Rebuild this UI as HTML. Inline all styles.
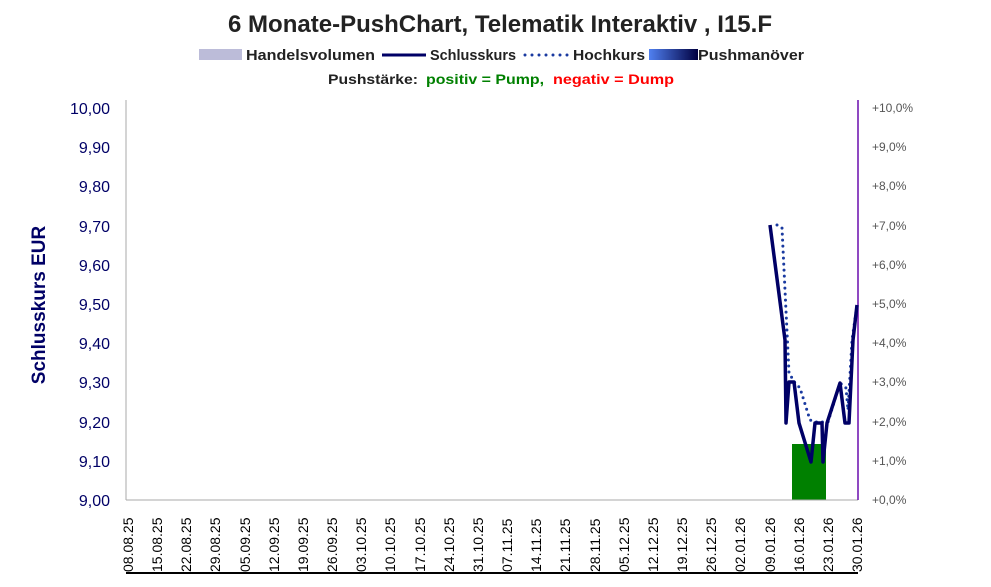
<!DOCTYPE html><html><head><style>body{margin:0;background:#fff;width:991px;height:587px;overflow:hidden}</style></head><body>
<svg width="991" height="587" font-family="Liberation Sans, sans-serif" style="display:block">
<text x="500" y="32" text-anchor="middle" font-size="24" font-weight="bold" fill="#222" textLength="544" lengthAdjust="spacingAndGlyphs">6 Monate-PushChart, Telematik Interaktiv , I15.F</text>
<rect x="199" y="49" width="43" height="11" fill="#bcbcd9"/>
<text x="246" y="60" font-size="15" font-weight="bold" fill="#222" textLength="129" lengthAdjust="spacingAndGlyphs">Handelsvolumen</text>
<line x1="382" y1="55" x2="426" y2="55" stroke="#000066" stroke-width="3"/>
<text x="430" y="60" font-size="15" font-weight="bold" fill="#222" textLength="86" lengthAdjust="spacingAndGlyphs">Schlusskurs</text>
<line x1="525" y1="55" x2="568" y2="55" stroke="#1a3aa0" stroke-width="3" stroke-linecap="round" stroke-dasharray="0,7"/>
<text x="573" y="60" font-size="15" font-weight="bold" fill="#222" textLength="72" lengthAdjust="spacingAndGlyphs">Hochkurs</text>
<defs><linearGradient id="g"><stop offset="0" stop-color="#5080f0"/><stop offset="1" stop-color="#000040"/></linearGradient></defs>
<rect x="649" y="49" width="49" height="11" fill="url(#g)"/>
<text x="698" y="60" font-size="15" font-weight="bold" fill="#222" textLength="106" lengthAdjust="spacingAndGlyphs">Pushmanöver</text>
<text x="328" y="84" font-size="14" font-weight="bold" fill="#222" textLength="90" lengthAdjust="spacingAndGlyphs">Pushstärke:</text>
<text x="426" y="84" font-size="14" font-weight="bold" fill="#008000" textLength="118" lengthAdjust="spacingAndGlyphs">positiv = Pump,</text>
<text x="553" y="84" font-size="14" font-weight="bold" fill="#ff0000" textLength="121" lengthAdjust="spacingAndGlyphs">negativ = Dump</text>
<text transform="translate(45,305) rotate(-90)" text-anchor="middle" font-size="19" font-weight="bold" fill="#000066">Schlusskurs EUR</text>
<g font-size="16" fill="#000066" text-anchor="end">
<text x="110" y="114">10,00</text><text x="110" y="153">9,90</text><text x="110" y="192">9,80</text><text x="110" y="232">9,70</text><text x="110" y="271">9,60</text><text x="110" y="310">9,50</text><text x="110" y="349">9,40</text><text x="110" y="388">9,30</text><text x="110" y="428">9,20</text><text x="110" y="467">9,10</text><text x="110" y="506">9,00</text>
</g>
<g font-size="12" fill="#555">
<text x="872" y="112">+10,0%</text><text x="872" y="151">+9,0%</text><text x="872" y="190">+8,0%</text><text x="872" y="230">+7,0%</text><text x="872" y="269">+6,0%</text><text x="872" y="308">+5,0%</text><text x="872" y="347">+4,0%</text><text x="872" y="386">+3,0%</text><text x="872" y="426">+2,0%</text><text x="872" y="465">+1,0%</text><text x="872" y="504">+0,0%</text>
</g>
<rect x="792" y="444" width="34" height="56" fill="#008000"/>
<line x1="126" y1="100" x2="126" y2="500" stroke="#aaa"/>
<line x1="126" y1="500" x2="858" y2="500" stroke="#aaa"/>
<line x1="858" y1="100" x2="858" y2="500" stroke="#6a0dad" stroke-width="1.5"/>
<line x1="126" y1="573" x2="858" y2="573" stroke="#000" stroke-width="2"/>
<polyline fill="none" stroke="#1a3aa0" stroke-width="3" stroke-linecap="round" stroke-dasharray="0,6" points="777,225 782,228 789,373 795,383 800,388 810,420 816,422 821,422 828,422 840,383 846,388 848,410 852,340 857,305"/>
<polyline fill="none" stroke="#000066" stroke-width="3.5" stroke-linejoin="round" points="770,225 785,340 786,423 789,382 794,382 799,423 811,462 815,423 822,423 823,462 827,423 840,383 845,423 849,423 853,340 857,305"/>
<g font-size="14" fill="#000">
<text transform="translate(133,572) rotate(-90)">08.08.25</text>
<text transform="translate(162,572) rotate(-90)">15.08.25</text>
<text transform="translate(191,572) rotate(-90)">22.08.25</text>
<text transform="translate(220,572) rotate(-90)">29.08.25</text>
<text transform="translate(250,572) rotate(-90)">05.09.25</text>
<text transform="translate(279,572) rotate(-90)">12.09.25</text>
<text transform="translate(308,572) rotate(-90)">19.09.25</text>
<text transform="translate(337,572) rotate(-90)">26.09.25</text>
<text transform="translate(366,572) rotate(-90)">03.10.25</text>
<text transform="translate(395,572) rotate(-90)">10.10.25</text>
<text transform="translate(425,572) rotate(-90)">17.10.25</text>
<text transform="translate(454,572) rotate(-90)">24.10.25</text>
<text transform="translate(483,572) rotate(-90)">31.10.25</text>
<text transform="translate(512,572) rotate(-90)">07.11.25</text>
<text transform="translate(541,572) rotate(-90)">14.11.25</text>
<text transform="translate(570,572) rotate(-90)">21.11.25</text>
<text transform="translate(600,572) rotate(-90)">28.11.25</text>
<text transform="translate(629,572) rotate(-90)">05.12.25</text>
<text transform="translate(658,572) rotate(-90)">12.12.25</text>
<text transform="translate(687,572) rotate(-90)">19.12.25</text>
<text transform="translate(716,572) rotate(-90)">26.12.25</text>
<text transform="translate(745,572) rotate(-90)">02.01.26</text>
<text transform="translate(775,572) rotate(-90)">09.01.26</text>
<text transform="translate(804,572) rotate(-90)">16.01.26</text>
<text transform="translate(833,572) rotate(-90)">23.01.26</text>
<text transform="translate(862,572) rotate(-90)">30.01.26</text>
</g>
</svg></body></html>
